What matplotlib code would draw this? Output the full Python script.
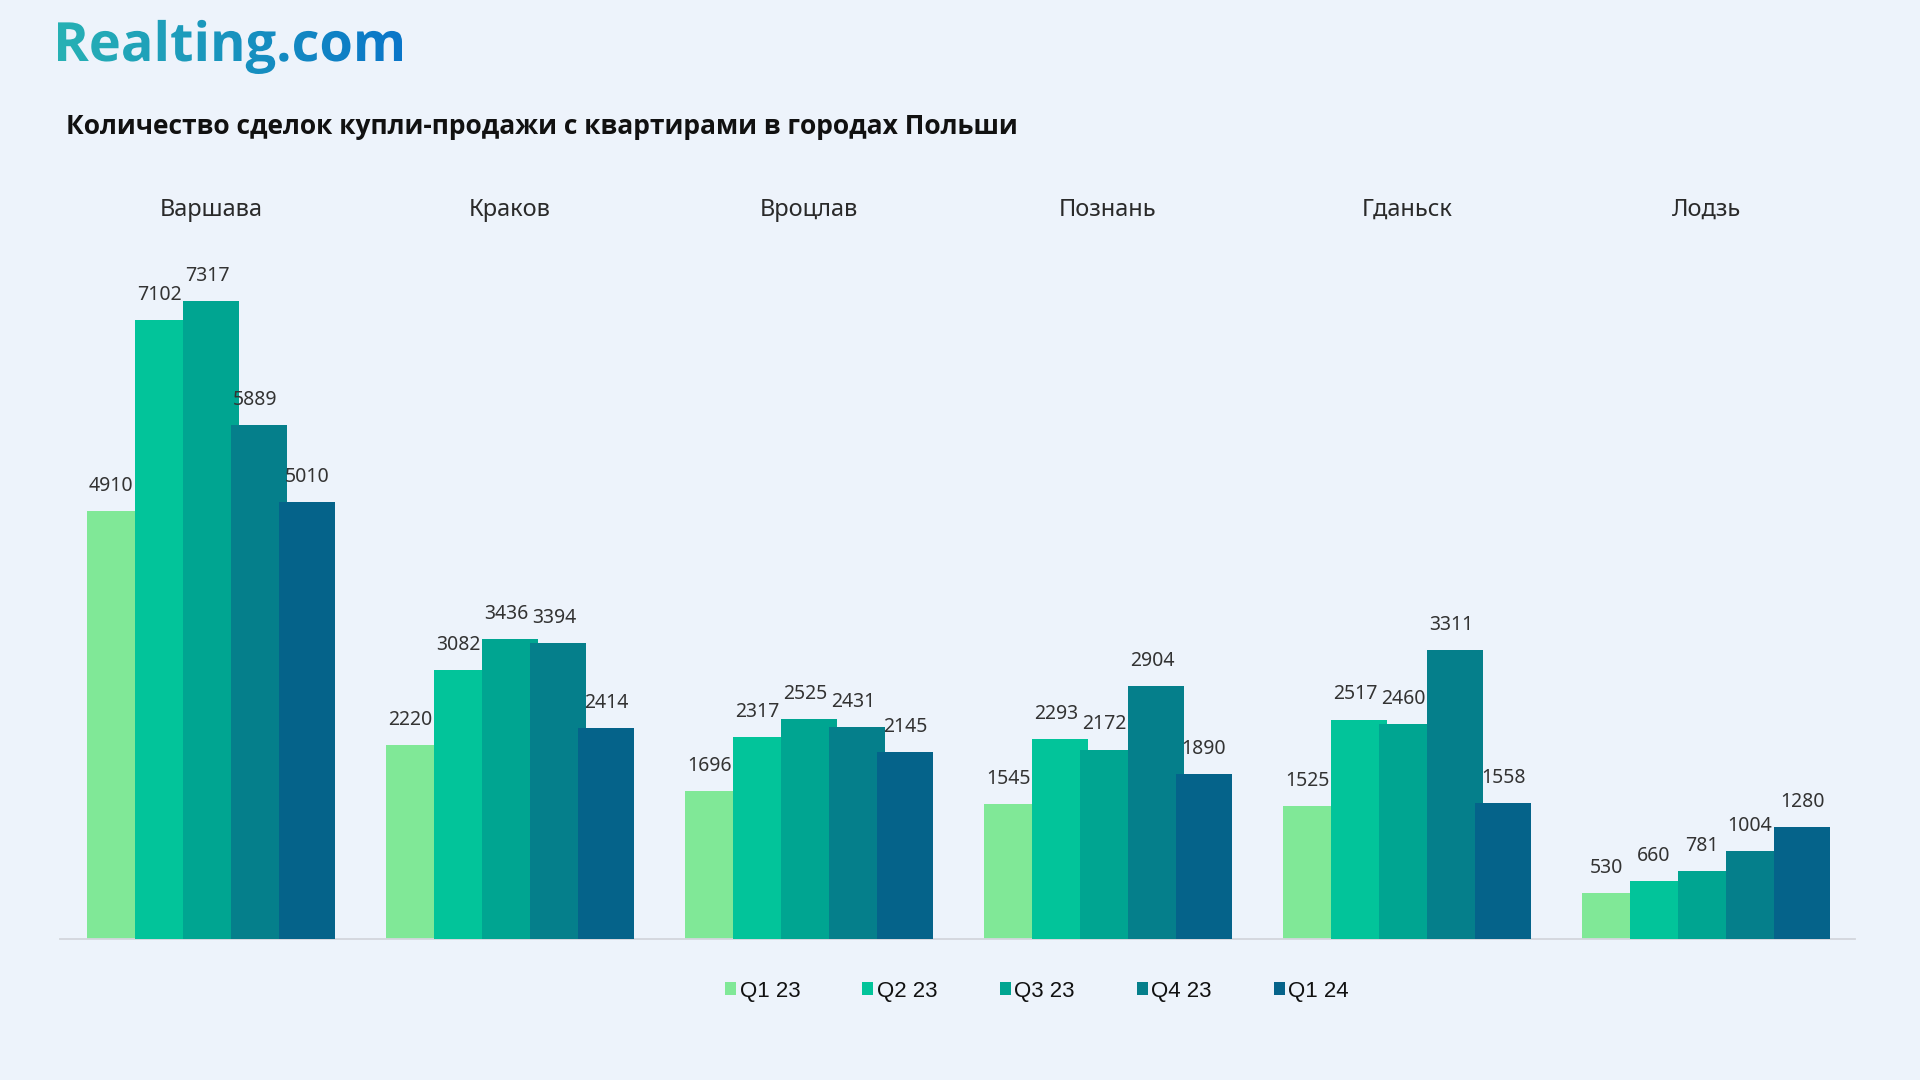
import numpy as np
import matplotlib
matplotlib.use("Agg")
import matplotlib.pyplot as plt
from matplotlib.textpath import TextPath
from matplotlib.patches import PathPatch
from matplotlib.font_manager import FontProperties
from matplotlib.transforms import Affine2D, blended_transform_factory
from matplotlib.colors import LinearSegmentedColormap

# --- data ---------------------------------------------------------------
cities = ["Варшава", "Краков", "Вроцлав", "Познань", "Гданьск", "Лодзь"]
quarters = ["Q1 23", "Q2 23", "Q3 23", "Q4 23", "Q1 24"]
q1_23 = [4910, 2220, 1696, 1545, 1525, 530]
q2_23 = [7102, 3082, 2317, 2293, 2517, 660]
q3_23 = [7317, 3436, 2525, 2172, 2460, 781]
q4_23 = [5889, 3394, 2431, 2904, 3311, 1004]
q1_24 = [5010, 2414, 2145, 1890, 1558, 1280]
series = [q1_23, q2_23, q3_23, q4_23, q1_24]

colors = ["#80E897", "#02C49A", "#00A591", "#057F8B", "#05638A"]
bg = "#EDF3FB"

title = "Количество сделок купли-продажи с квартирами в городах Польши"
logo = "Realting.com"

W, H = 1920, 1080
fig = plt.figure(figsize=(W / 100, H / 100), dpi=100, facecolor=bg)

# main axes: baseline at y=939px, x axis line from 60px to 1855px
px_per_unit = 0.0872
ymax = 9000
ax = fig.add_axes([60 / W, (H - 939) / H, 1795 / W, ymax * px_per_unit / H])
ax.set_facecolor(bg)
ax.set_xlim(-0.505, 5.498)
ax.set_ylim(0, ymax)

grp = 299.0          # px between groups
step = 48 / grp      # bars overlap: step narrower than width
width = 56 / grp
x = np.arange(len(cities))

containers = []
for j, (vals, c) in enumerate(zip(series, colors)):
    left = -124 / grp + j * step
    bc = ax.bar(x + left, vals, width=width, align="edge", color=c,
                edgecolor="none", label=quarters[j], zorder=2 + j)
    containers.append(bc)
    vis = 28 / grp if j == len(series) - 1 else 24 / grp
    for xi, v in zip(x, vals):
        ax.annotate(f"{v}", (xi + left + vis, v), xytext=(0, 14.5),
                    textcoords="offset points", ha="center", va="baseline",
                    fontsize=14, color="#333333", family="Noto Sans",
                    zorder=10)

for s in ["top", "right", "left"]:
    ax.spines[s].set_visible(False)
ax.spines["bottom"].set_color("#D3D6DC")
ax.spines["bottom"].set_linewidth(1.3)
ax.set_xticks([])
ax.set_yticks([])

# city names above groups
tr = blended_transform_factory(ax.transData, fig.transFigure)
for xi, name in zip(x, cities):
    ax.text(xi, 1 - 210 / H, name, transform=tr, ha="center", va="center",
            fontsize=17, color="#2A2A2A", family="Noto Sans")

# title
fig.text(66 / W, 1 - 126 / H, title, ha="left", va="center",
         fontsize=19, fontweight="bold", color="#111111", family="Open Sans")

# legend
fig.legend(handles=containers, labels=quarters, ncol=5, loc="center",
           bbox_to_anchor=(1037 / W, 1 - 991 / H), frameon=False,
           prop={"family": "Liberation Sans", "size": 16},
           handlelength=0.5, handleheight=0.5, handletextpad=0.15,
           columnspacing=2.8, labelcolor="#111111")

# logo with gradient fill
lax = fig.add_axes([0, 0, 1, 1], zorder=20)
lax.set_xlim(0, W)
lax.set_ylim(0, H)
lax.axis("off")
lax.patch.set_alpha(0)
tp = TextPath((0, 0), logo, size=100,
              prop=FontProperties(family="Open Sans", weight="bold"))
bb = tp.get_extents()
s = (402 - 58) / bb.width
tp = Affine2D().translate(-bb.x0, 0).scale(s).translate(58, H - 61).transform_path(tp)
patch = PathPatch(tp, facecolor="none", edgecolor="none")
lax.add_patch(patch)
cmap = LinearSegmentedColormap.from_list("logo", ["#27B1B4", "#0A76C9"])
grad = np.linspace(0, 1, 256).reshape(1, -1)
im = lax.imshow(grad, cmap=cmap, extent=[58, 402, H - 80, H - 10],
                aspect="auto", zorder=21)
im.set_clip_path(patch)

fig.savefig("out.png", dpi=100, facecolor=bg)
